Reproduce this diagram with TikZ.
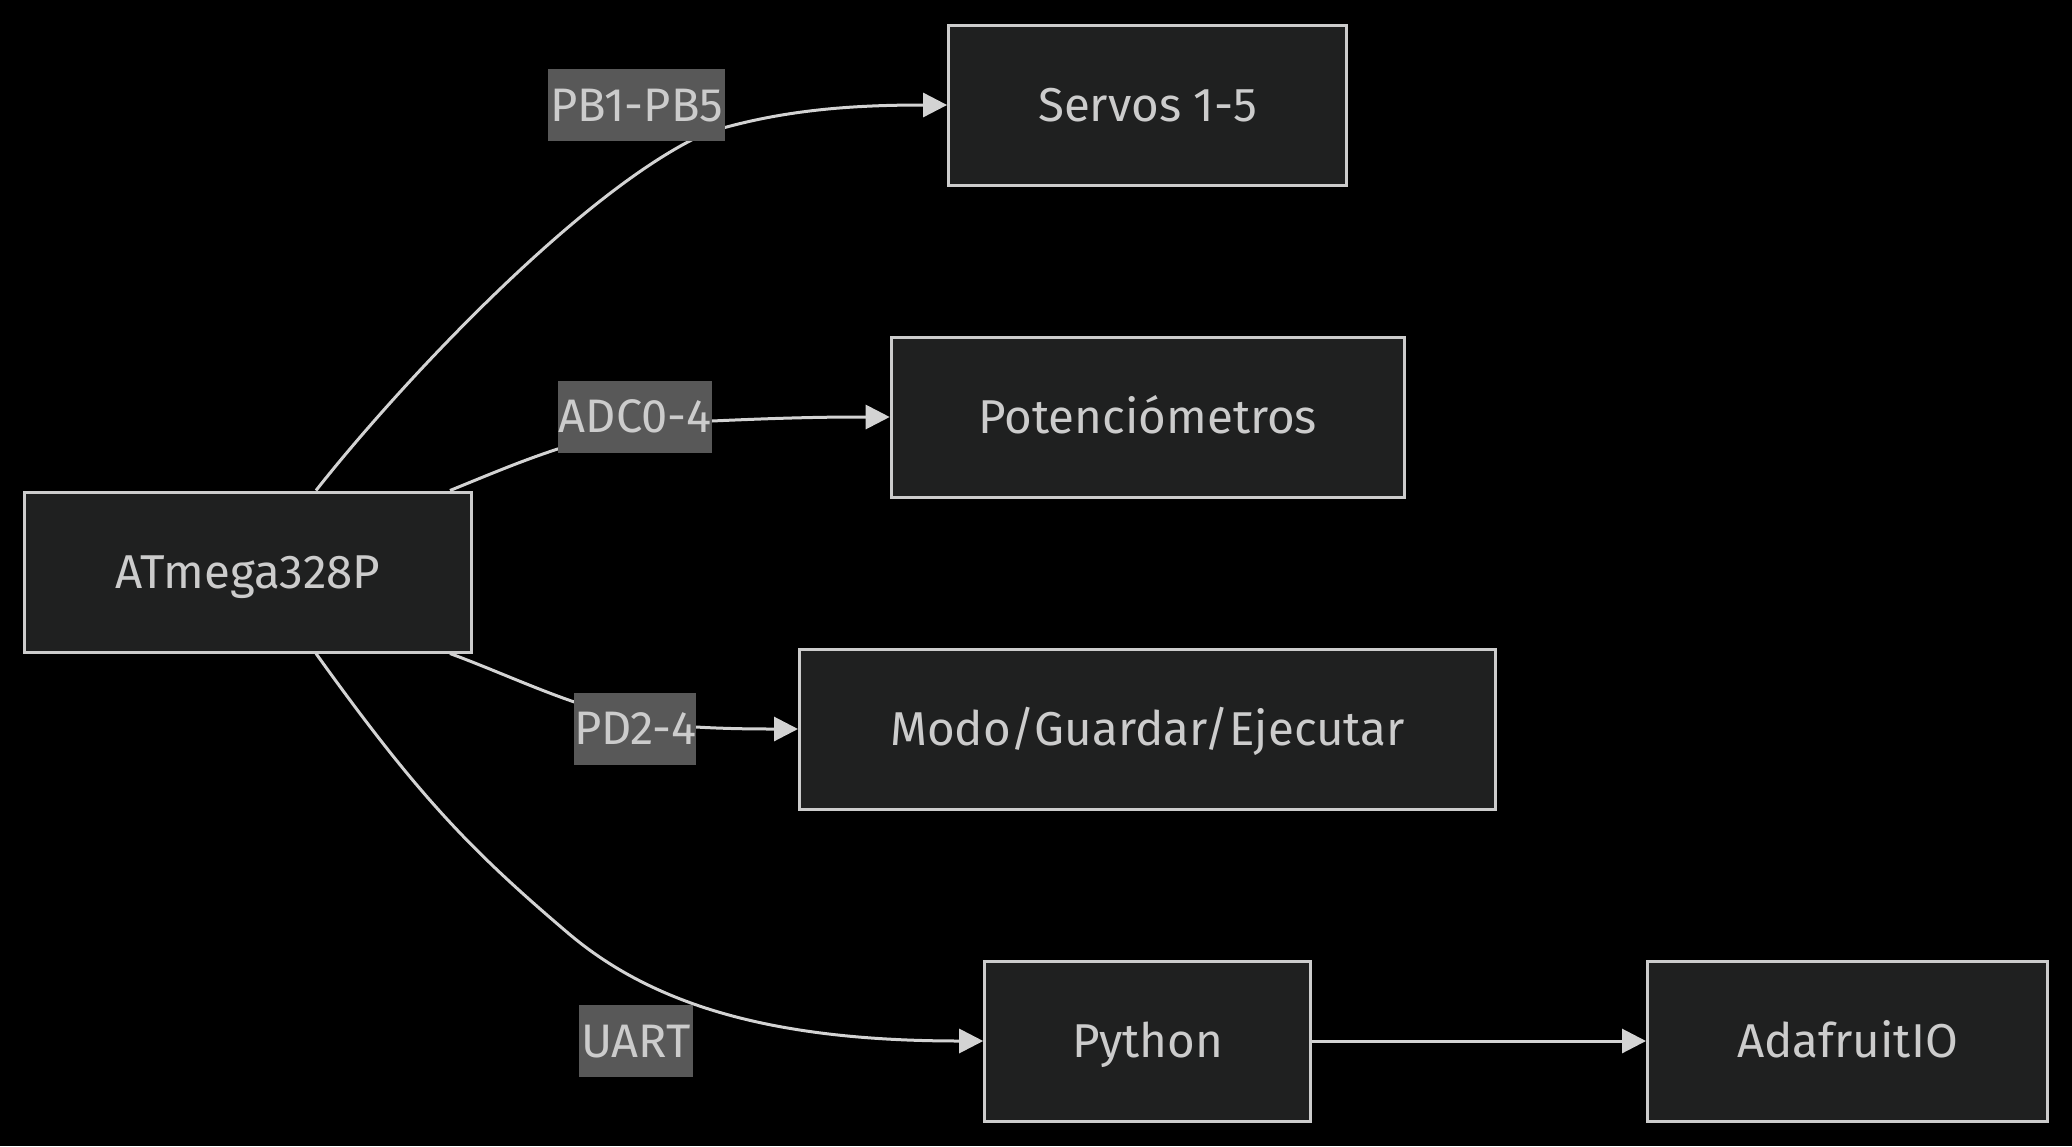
\documentclass[tikz,border=0pt]{standalone}
\usepackage{fontspec}
\setmainfont{Fira Sans}
\usetikzlibrary{arrows.meta}
\definecolor{bgc}{HTML}{000000}
\definecolor{nodefill}{HTML}{1F2020}
\definecolor{nodeline}{HTML}{CCCCCC}
\definecolor{txt}{HTML}{CCCCCC}
\definecolor{edgec}{HTML}{D3D3D3}
\definecolor{lblbg}{HTML}{585858}
\tikzset{
  box/.style={draw=nodeline, fill=nodefill, line width=3pt, rectangle,
    minimum height=160pt, inner sep=0pt, text=txt,
    font=\fontsize{47.5}{57}\selectfont, text height=32.7pt, text depth=0pt},
  lbl/.style={fill=lblbg, draw=none, rectangle, inner sep=0pt, text=txt,
    minimum height=72pt, font=\fontsize{47}{56}\selectfont,
    text height=32.4pt, text depth=0pt},
  edge/.style={draw=edgec, line width=3pt,
    -{Triangle[length=24pt, width=24pt]}}
}
\begin{document}
\begin{tikzpicture}[x=1pt, y=-1pt]
\fill[bgc] (0,0) rectangle (2072,1146);
\useasboundingbox (0,0) rectangle (2072,1146);

\node[box, minimum width=447pt] (atm) at (248,572) {ATmega328P};
\node[box, minimum width=398pt] (servo) at (1147.6,105) {Servos 1-5};
\node[box, minimum width=513pt] (pot) at (1147.7,417) {Potenciómetros};
\node[box, minimum width=696pt] (modo) at (1147.5,729) {Modo/Guardar/Ejecutar};
\node[box, minimum width=326pt] (py) at (1147.7,1041) {Python};
\node[box, minimum width=400pt] (ada) at (1847.5,1041) {AdafruitIO};

\draw[edge] ([xshift=68pt]atm.north) .. controls (395,390) and (580,190) .. (706,133)
   .. controls (780,110) and (850,105) .. (servo.west);
\draw[edge] ([xshift=202pt]atm.north) .. controls (530,458) and (600,426) .. (712,421)
   .. controls (800,417) and (840,417) .. (pot.west);
\draw[edge] ([xshift=202pt]atm.south) .. controls (530,683) and (600,722) .. (696,727)
   .. controls (730,729) and (760,729) .. (modo.west);
\draw[edge] ([xshift=68pt]atm.south) .. controls (416,793) and (468,848) .. (568,933)
   .. controls (658,1009.5) and (783,1041) .. (py.west);
\draw[edge] (py.east) -- (ada.west);

\node[lbl, minimum width=177pt] (l1) at (636.5,105) {PB1-PB5};
\node[lbl, minimum width=154pt] (l2) at (635,416.5) {ADC0-4};
\node[lbl, minimum width=122pt] (l3) at (635,728.5) {PD2-4};
\node[lbl, minimum width=114pt] (l4) at (636,1041) {UART};
\end{tikzpicture}
\end{document}
